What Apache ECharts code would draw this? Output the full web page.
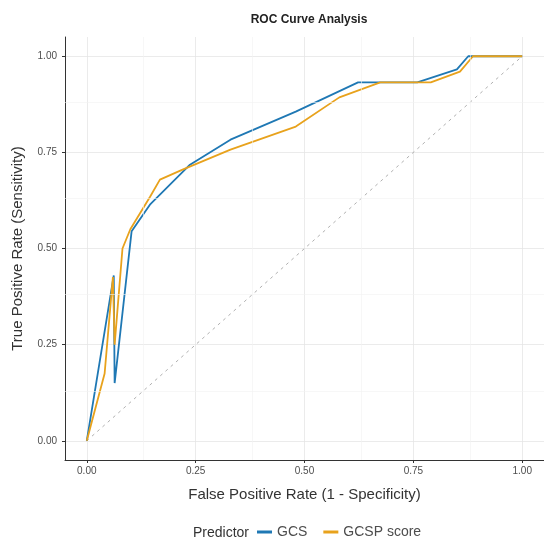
<!DOCTYPE html>
<html>
<head>
<meta charset="utf-8">
<script src="https://cdn.jsdelivr.net/npm/echarts@6/dist/echarts.min.js"></script>
<style>html,body{margin:0;padding:0;background:#fff}#c{width:544px;height:542px}</style>
</head>
<body>
<div id="c"></div>
<script>
const chartTitle = 'ROC Curve Analysis';
const xTitle = 'False Positive Rate (1 - Specificity)';
const yTitle = 'True Positive Rate (Sensitivity)';
const legendTitle = 'Predictor';
const seriesNames = ['GCS', 'GCSP score'];
const tickValues = [0, 0.25, 0.5, 0.75, 1];
const minorGrid = [0.125, 0.375, 0.625, 0.875];

const gcsFpr = [0, 0.062, 0.064, 0.103, 0.145, 0.237, 0.33, 0.48, 0.623, 0.759, 0.85, 0.876, 1];
const gcsTpr = [0, 0.43, 0.15, 0.545, 0.614, 0.718, 0.783, 0.856, 0.932, 0.932, 0.966, 1, 1];

const gcspFpr = [0, 0.041, 0.06, 0.064, 0.082, 0.1, 0.145, 0.168, 0.22, 0.33, 0.48, 0.58, 0.674, 0.79, 0.857, 0.887, 1];
const gcspTpr = [0, 0.175, 0.426, 0.25, 0.5, 0.55, 0.634, 0.679, 0.705, 0.757, 0.817, 0.893, 0.932, 0.932, 0.96, 1, 1];

const refLine = [[0, 0], [1, 1]];

const zip = (a, b) => a.map((v, i) => [v, b[i]]);
const fmt = v => v.toFixed(2);
const FONT = 'Liberation Sans, Arial, sans-serif';

const axisCommon = {
  type: 'value', min: -0.05, max: 1.05,
  axisLine: { show: true, onZero: false, lineStyle: { color: '#333', width: 1 } },
  axisTick: { show: true, length: 3, customValues: tickValues, lineStyle: { color: '#333' } },
  axisLabel: { customValues: tickValues, formatter: fmt, color: '#4d4d4d', fontSize: 10, fontFamily: FONT },
  splitLine: { show: true, lineStyle: { color: '#e6e6e6', width: 0.8 } },
  nameLocation: 'middle',
  nameTextStyle: { color: '#333', fontSize: 15, fontFamily: FONT }
};

const chart = echarts.init(document.getElementById('c'), null, { renderer: 'canvas' });
chart.setOption({
  animation: false,
  textStyle: { fontFamily: FONT },
  title: [
    { text: chartTitle, left: 304, top: 9, textAlign: 'center',
      textStyle: { fontSize: 12, fontWeight: 'bold', color: '#222', fontFamily: FONT } },
    { text: legendTitle, left: 188, top: 521,
      textStyle: { fontSize: 14, fontWeight: 'normal', color: '#333', fontFamily: FONT } }
  ],
  grid: { left: 65, top: 37, width: 480, height: 423 },
  xAxis: Object.assign({}, axisCommon, { name: xTitle, nameGap: 27,
    axisLabel: Object.assign({}, axisCommon.axisLabel, { margin: 6 }) }),
  yAxis: Object.assign({}, axisCommon, { name: yTitle, nameGap: 40 }),
  legend: {
    data: seriesNames,
    left: 252, top: 520,
    itemWidth: 15, itemHeight: 3, itemGap: 16,
    icon: 'rect',
    textStyle: { fontSize: 14, color: '#4d4d4d', fontFamily: FONT }
  },
  series: [
    {
      name: 'grid-minor', type: 'line', data: [], z: 1, silent: true,
      markLine: {
        silent: true, symbol: 'none', label: { show: false },
        lineStyle: { color: '#f1f1f1', width: 0.6, type: 'solid' },
        data: minorGrid.map(v => ({ xAxis: v })).concat(minorGrid.map(v => ({ yAxis: v })))
      }
    },
    {
      name: 'ref', type: 'line', data: refLine, symbol: 'none', silent: true, z: 2,
      lineStyle: { color: '#b0b0b0', width: 1, type: [3, 4] }
    },
    {
      name: seriesNames[0], type: 'line', data: zip(gcsFpr, gcsTpr), symbol: 'none', z: 3,
      itemStyle: { color: '#1f78b4' }, lineStyle: { color: '#1f78b4', width: 1.8 }
    },
    {
      name: seriesNames[1], type: 'line', data: zip(gcspFpr, gcspTpr), symbol: 'none', z: 4,
      itemStyle: { color: '#e8a21c' }, lineStyle: { color: '#e8a21c', width: 1.8 }
    }
  ]
});
</script>
</body>
</html>
